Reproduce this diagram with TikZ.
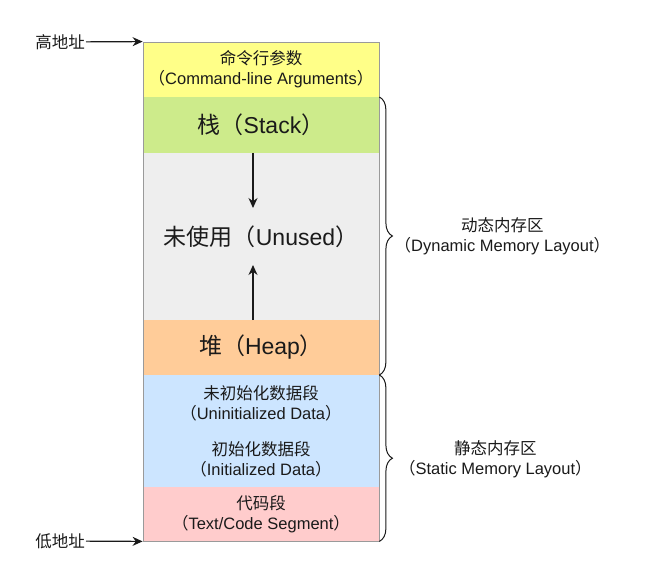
\documentclass[tikz,border=0pt]{standalone}
\usepackage{fontspec}
\setmainfont{Liberation Sans}
\newfontfamily\cjk{Noto Sans CJK SC}
\usetikzlibrary{positioning, arrows.meta, decorations.pathreplacing, fit, backgrounds}
\definecolor{argscolor}{HTML}{FFFF88}
\definecolor{stackcolor}{HTML}{CDEB8B}
\definecolor{unusedcolor}{HTML}{EEEEEE}
\definecolor{heapcolor}{HTML}{FFCC99}
\definecolor{datacolor}{HTML}{CCE5FF}
\definecolor{codecolor}{HTML}{FFCCCC}
\definecolor{edgecolor}{HTML}{9A9A9A}
\definecolor{inkcolor}{HTML}{1A1A1A}
\newcommand{\smalltext}{\fontsize{16.5}{20}\selectfont}
\newcommand{\bigtext}{\fontsize{23}{27}\selectfont}
\newcommand{\zh}[1]{{\cjk #1}}
\newcommand{\lp}{\zh{（}}
\newcommand{\rp}{\zh{）}}

\begin{document}
\begin{tikzpicture}[
    x=1pt, y=-1pt,
    seg/.style={rectangle, minimum width=236pt, minimum height=#1, inner sep=0pt, outer sep=0pt, align=center, font=\smalltext, text=inkcolor},
    txt/.style={align=center, font=\smalltext, text=inkcolor, inner sep=1pt},
    arrow/.style={-{Stealth[length=10pt, width=9pt]}, line width=1.2pt, draw=inkcolor},
    brace/.style={decorate, decoration={brace, amplitude=13pt}, line width=1pt, draw=inkcolor},
]

\fill[white] (0,0) rectangle (666,572);
\useasboundingbox (0,0) rectangle (666,572);

% ============ 内存段 ============
\node[seg=55pt, fill=argscolor, anchor=north west] (args) at (143,42)
      {\zh{命令行参数}\\\lp Command-line Arguments\rp};

\node[seg=56pt, fill=stackcolor, font=\bigtext, below=0pt of args] (stack)
      {\zh{栈}\lp Stack\rp};

\node[seg=167pt, fill=unusedcolor, font=\bigtext, below=0pt of stack] (unused)
      {\zh{未使用}\lp Unused\rp};

\node[seg=55pt, fill=heapcolor, font=\bigtext, below=0pt of unused] (heap)
      {\zh{堆}\lp Heap\rp};

\node[seg=56pt, fill=datacolor, below=0pt of heap] (bss)
      {\zh{未初始化数据段}\\\lp Uninitialized Data\rp};

\node[seg=56pt, fill=datacolor, below=0pt of bss] (data)
      {\zh{初始化数据段}\\\lp Initialized Data\rp};

\node[seg=54pt, fill=codecolor, below=0pt of data] (code)
      {\zh{代码段}\\\lp Text/Code Segment\rp};

% 外框
\node[draw=edgecolor, line width=0.8pt, fit={(args) (code)}, inner sep=0pt] (column) {};

% ============ 增长方向 ============
\coordinate (growdown) at (253,208);
\coordinate (growup) at (253,265);
\draw[arrow] (stack.south -| growdown) -- (growdown);
\draw[arrow] (heap.north -| growup) -- (growup);

% ============ 地址 ============
\node[txt, anchor=east] (high) at (86,42) {\zh{高地址}};
\node[txt, anchor=east] (low) at (86,541) {\zh{低地址}};
\draw[arrow] (high) -- (column.north west);
\draw[arrow] (low) -- (column.south west);

% ============ 区域 ============
\draw[brace] (column.east |- stack.north) -- (column.east |- heap.south);
\draw[brace] (column.east |- bss.north) -- (column.south east);

\node[txt] (dynamic) at ([xshift=123pt]column.east |- unused.center)
      {\zh{动态内存区}\\\lp Dynamic Memory Layout\rp};
\node[txt] (static) at ([xshift=116pt]column.east |- data.center)
      {\zh{静态内存区}\\\lp Static Memory Layout\rp};

\end{tikzpicture}
\end{document}
